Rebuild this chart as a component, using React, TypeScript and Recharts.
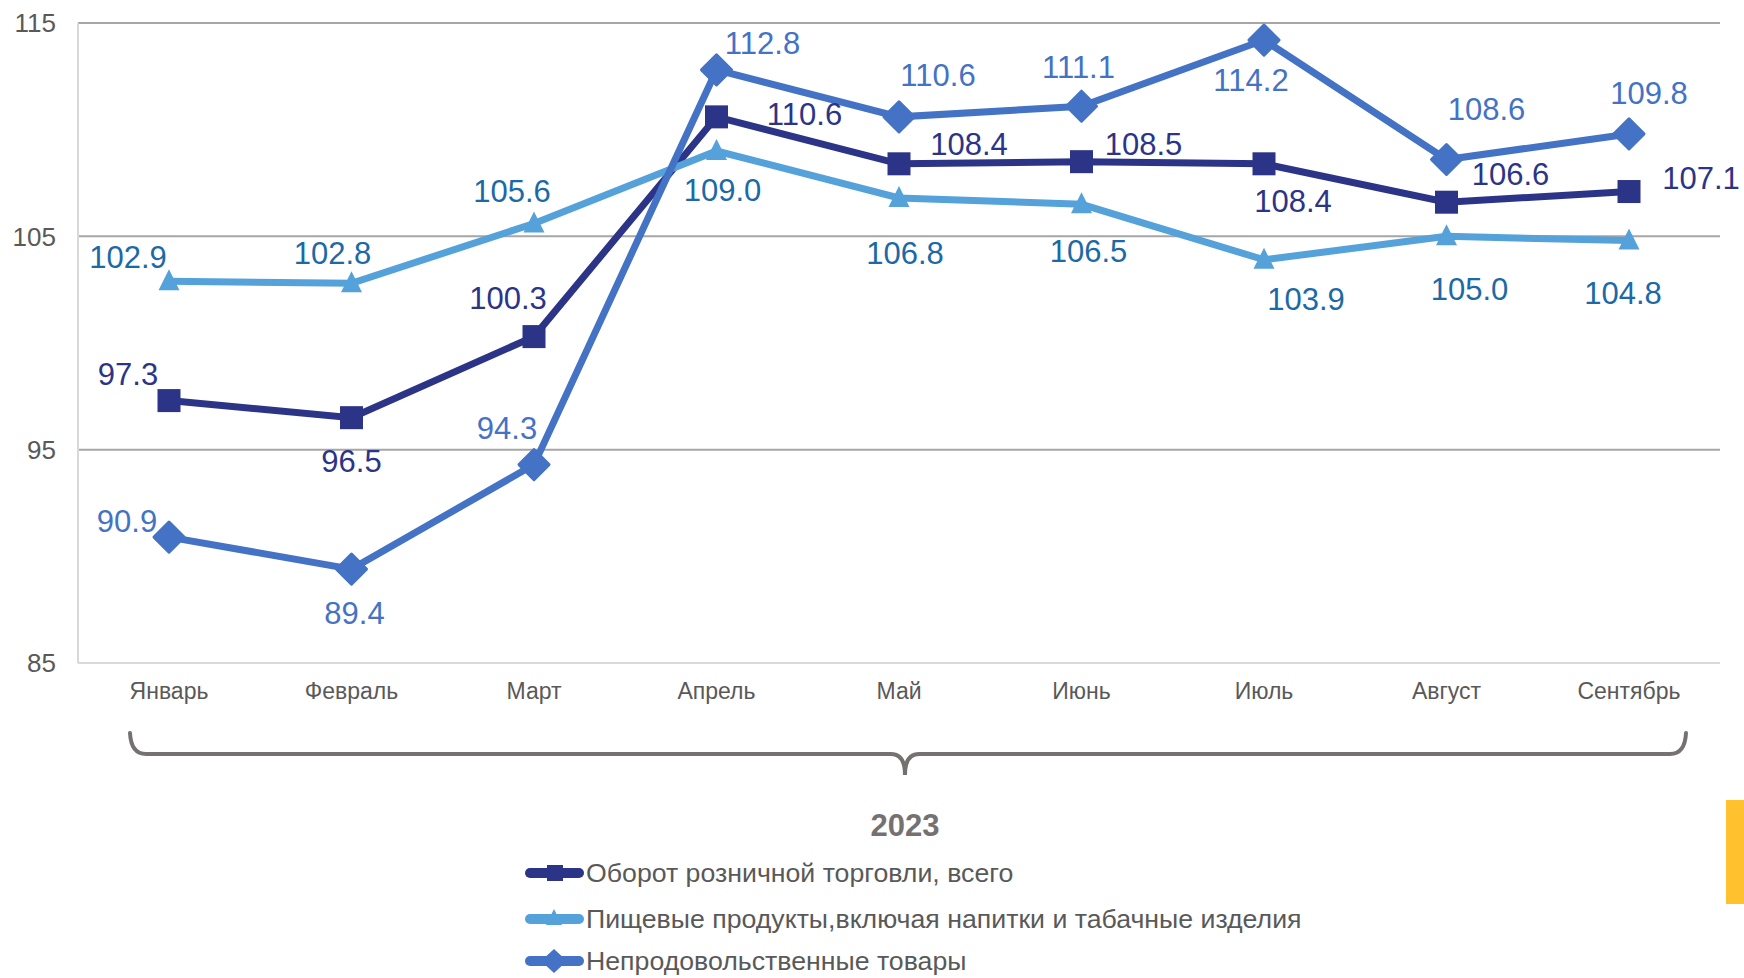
import React from "react";
import { LineChart, Line, XAxis, YAxis, ReferenceLine, LabelList } from "recharts";

const months = ["Январь", "Февраль", "Март", "Апрель", "Май", "Июнь", "Июль", "Август", "Сентябрь"];
const totalTurnover = [97.3, 96.5, 100.3, 110.6, 108.4, 108.5, 108.4, 106.6, 107.1];
const foodProducts = [102.9, 102.8, 105.6, 109.0, 106.8, 106.5, 103.9, 105.0, 104.8];
const nonFoodGoods = [90.9, 89.4, 94.3, 112.8, 110.6, 111.1, 114.2, 108.6, 109.8];
const yTicks = [85, 95, 105, 115];
const gridValues = [95, 105, 115];
const seriesNames = [
  "Оборот розничной торговли, всего",
  "Пищевые продукты,включая напитки и табачные изделия",
  "Непродовольственные товары",
];
const yearLabel = "2023";

const data = months.map((m, i) => ({
  month: m,
  total: totalTurnover[i],
  food: foodProducts[i],
  nonfood: nonFoodGoods[i],
}));

// label placement offsets (px) relative to each point
const totalOffsets = [[-41, -26], [0, 44], [-26, -38], [88, -2], [70, -19], [62, -17], [29, 38], [64, -28], [72, -13]];
const foodOffsets = [[-41, -24], [-19, -30], [-22, -32], [6, 39], [6, 56], [7, 47], [42, 40], [23, 53], [-6, 53]];
const nonFoodOffsets = [[-42, -16], [3, 44], [-27, -36], [46, -26], [39, -41], [-3, -39], [-13, 40], [40, -50], [20, -40]];

const FONT = '"Liberation Sans", Arial, sans-serif';
const NAVY = "#2C3487";
const LIGHT = "#55A1D9";
const MID = "#4472C4";
const LIGHT_LABEL = "#1B69A5";
const GRAY_TEXT = "#595959";

const makeLabel = (offsets: number[][], color: string) => (props: any) => {
  const { x, y, value, index } = props;
  const [dx, dy] = offsets[index] || [0, 0];
  return (
    <text
      x={x + dx}
      y={y + dy}
      fill={color}
      fontSize={31}
      fontFamily={FONT}
      textAnchor="middle"
      dominantBaseline="central"
    >
      {Number(value).toFixed(1)}
    </text>
  );
};

const squareDot = (p: any) => (
  <rect key={`s-${p.index}`} x={p.cx - 11.5} y={p.cy - 11.5} width={23} height={23} fill={NAVY} />
);
const triangleDot = (p: any) => (
  <path
    key={`t-${p.index}`}
    d={`M${p.cx},${p.cy - 12} L${p.cx + 10.5},${p.cy + 9} L${p.cx - 10.5},${p.cy + 9} Z`}
    fill={LIGHT}
  />
);
const diamondDot = (p: any) => (
  <path
    key={`d-${p.index}`}
    d={`M${p.cx},${p.cy - 15} L${p.cx + 15},${p.cy} L${p.cx},${p.cy + 15} L${p.cx - 15},${p.cy} Z`}
    fill={MID}
    strokeLinejoin="round"
    stroke={MID}
    strokeWidth={3}
  />
);

function Overlay() {
  const cx = 905;
  const legendRows = [
    { y: 873, color: NAVY, marker: "square" },
    { y: 919, color: LIGHT, marker: "triangle" },
    { y: 961, color: MID, marker: "diamond" },
  ];
  return (
    <svg
      width={1744}
      height={978}
      style={{ position: "absolute", left: 0, top: 0, pointerEvents: "none" }}
    >
      <path
        d={`M130,733 Q131,754 146,754 L${cx - 14},754 Q${cx},754 ${cx},775 Q${cx},754 ${cx + 14},754 L1670,754 Q1685,754 1686,733`}
        fill="none"
        stroke="#767171"
        strokeWidth={4}
        strokeLinecap="round"
      />
      <text
        x={cx}
        y={825}
        textAnchor="middle"
        dominantBaseline="central"
        fontFamily={FONT}
        fontWeight="bold"
        fontSize={31}
        fill="#767171"
      >
        {yearLabel}
      </text>
      {legendRows.map((r, i) => (
        <g key={i}>
          <line x1={530} x2={579} y1={r.y} y2={r.y} stroke={r.color} strokeWidth={10} strokeLinecap="round" />
          {r.marker === "square" && <rect x={547} y={r.y - 8} width={16} height={16} fill={r.color} />}
          {r.marker === "triangle" && (
            <path d={`M554,${r.y - 10} L562,${r.y + 6} L546,${r.y + 6} Z`} fill={r.color} />
          )}
          {r.marker === "diamond" && (
            <path d={`M554,${r.y - 12} L567,${r.y} L554,${r.y + 12} L541,${r.y} Z`} fill={r.color} />
          )}
          <text
            x={586}
            y={r.y}
            dominantBaseline="central"
            fontFamily={FONT}
            fontSize={26.7}
            fill={GRAY_TEXT}
          >
            {seriesNames[i]}
          </text>
        </g>
      ))}
      <rect x={1726} y={800} width={18} height={104} fill="#FFC22E" />
    </svg>
  );
}

export default function App() {
  return (
    <div
      style={{
        position: "absolute",
        left: 0,
        top: 0,
        width: 1744,
        height: 978,
        background: "#ffffff",
        overflow: "hidden",
        fontFamily: FONT,
      }}
    >
      <LineChart
        width={1744}
        height={978}
        data={data}
        margin={{ top: 23, right: 24, bottom: 255, left: 0 }}
      >
        <XAxis
          dataKey="month"
          height={60}
          padding={{ left: 91, right: 91 }}
          tickLine={false}
          tickSize={0}
          tickMargin={20}
          axisLine={{ stroke: "#D9D9D9", strokeWidth: 2 }}
          tick={{ fill: GRAY_TEXT, fontSize: 23, fontFamily: FONT }}
          interval={0}
        />
        <YAxis
          width={78}
          domain={[85, 115]}
          ticks={yTicks}
          allowDataOverflow
          tickLine={false}
          tickSize={0}
          tickMargin={22}
          axisLine={{ stroke: "#D9D9D9", strokeWidth: 2 }}
          tick={{ fill: GRAY_TEXT, fontSize: 26, fontFamily: FONT }}
        />
        {gridValues.map((v) => (
          <ReferenceLine key={v} y={v} stroke="#A6A6A6" strokeWidth={2} />
        ))}
        <Line
          dataKey="total"
          stroke={NAVY}
          strokeWidth={7}
          dot={squareDot}
          activeDot={false}
          isAnimationActive={false}
        >
          <LabelList dataKey="total" content={makeLabel(totalOffsets, NAVY)} />
        </Line>
        <Line
          dataKey="food"
          stroke={LIGHT}
          strokeWidth={7}
          dot={triangleDot}
          activeDot={false}
          isAnimationActive={false}
        >
          <LabelList dataKey="food" content={makeLabel(foodOffsets, LIGHT_LABEL)} />
        </Line>
        <Line
          dataKey="nonfood"
          stroke={MID}
          strokeWidth={7}
          dot={diamondDot}
          activeDot={false}
          isAnimationActive={false}
        >
          <LabelList dataKey="nonfood" content={makeLabel(nonFoodOffsets, MID)} />
        </Line>
      </LineChart>
      <Overlay />
    </div>
  );
}
